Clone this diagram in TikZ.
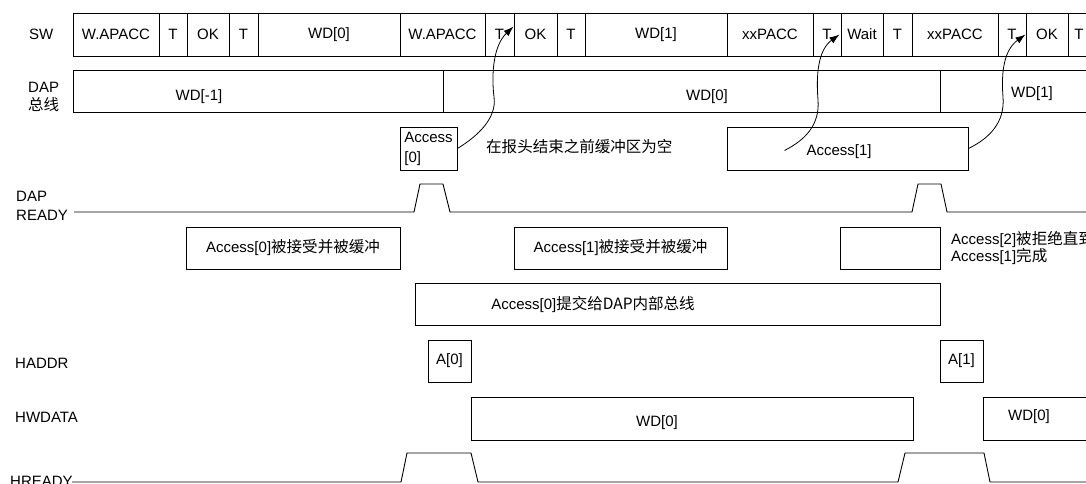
\documentclass[tikz,border=0pt]{standalone}
\usepackage{fontspec}
\setmainfont{Liberation Sans}
\newfontfamily\cjk{Noto Sans CJK SC}[Scale=1.035]
\usetikzlibrary{arrows.meta, calc, positioning}

\begin{document}
\begin{tikzpicture}[x=1pt, y=-1pt,
    font={\fontsize{15}{17}\selectfont},
    cell/.style={rectangle, draw, line width=0.9pt, inner sep=0pt, minimum height=43pt},
    lbl/.style={anchor=west, align=left, inner sep=0pt, font={\fontsize{15}{18.5}\selectfont}},
    wave/.style={line width=0.9pt},
    arrow/.style={-{Latex[length=10pt, width=7pt]}, line width=0.8pt}]

    \useasboundingbox (0,0) rectangle (1086,484);
    \clip (0,0) rectangle (1086,484);

    % signal names
    \node[lbl] (swl) at (29,34) {SW};
    \node[lbl] (busl) at (28,97) {DAP\\{\cjk 总线}};
    \node[lbl] (rdyl) at (16,206) {DAP\\READY};
    \node[lbl] (haddrl) at (15,363) {HADDR};
    \node[lbl] (hwdatal) at (15,417) {HWDATA};
    \node[lbl] (hrdyl) at (10,481) {HREADY};

    % SW row
    \foreach \a/\b/\t [count=\i] in {73/159/W.APACC, 159/187/T, 187/229/OK, 229/258/T,
        258/400/WD[0], 400/485/W.APACC, 485/514/T, 514/557/OK, 557/585/T, 585/727/WD[1],
        727/813/xxPACC, 813/841/T, 841/883/Wait, 883/912/T, 912/998/xxPACC, 998/1026/T,
        1026/1068/OK, 1068/1090/T}
        \node[cell, minimum width=\b-\a] (sw\i) at ({(\a+\b)/2},34.5) {\t};

    % DAP bus row
    \node[cell, minimum width=370, minimum height=42] (bus1) at (258,91) {};
    \node (bus1t) at (199,97) {WD[-1]};
    \node[cell, minimum width=497, minimum height=42] (bus2) at (691.5,91) {};
    \node (bus2t) at (707,97) {WD[0]};
    \node[cell, minimum width=160, minimum height=42] (bus3) at (1020,91) {};
    \node (bus3t) at (1032,94) {WD[1]};

    % accesses
    \node[cell, minimum width=57, align=left, font={\fontsize{15}{20}\selectfont}] (acc0) at (428.5,148.5) {Access\\{[0]}};
    \node[anchor=west, inner sep=0pt] (note) at (486,147) {\cjk 在报头结束之前缓冲区为空};
    \node[cell, minimum width=241] (acc1) at (847.5,148.5) {};
    \node (acc1t) at (839,152) {Access[1]};

    % DAP READY
    \draw[wave] (74,212) -- (414,212) -- (420,184) -- (443,184) -- (450,212) -- (912,212)
        -- (918,184) -- (941,184) -- (947,212) -- (1090,212);

    \node[cell, minimum width=214, minimum height=42] (mid0) at (293,248) {Access[0]{\cjk 被接受并被缓冲}};
    \node[cell, minimum width=213, minimum height=42] (mid1) at (620.5,248) {Access[1]{\cjk 被接受并被缓冲}};
    \node[cell, minimum width=100, minimum height=42] (mid2) at (890,248) {};
    \node[lbl, font={\fontsize{15}{16.5}\selectfont}] (rej) at (951,248) {Access[2]{\cjk 被拒绝直到}\\Access[1]{\cjk 完成}};

    \node[cell, minimum width=525, minimum height=42] (commit) at (677.5,304) {};
    \node (committ) at (593,304) {Access[0]{\cjk 提交给DAP内部总线}};

    % AHB side
    \node[cell, minimum width=43, minimum height=42] (a0) at (449.5,361) {A[0]};
    \node[cell, minimum width=43, minimum height=42] (a1) at (961.5,361) {A[1]};

    \node[cell, minimum width=442] (hw0) at (692,418.5) {};
    \node (hw0t) at (657,423) {WD[0]};
    \node[cell, minimum width=117] (hw1) at (1041.5,418.5) {};
    \node (hw1t) at (1029,417) {WD[0]};

    \draw[wave] (72,482) -- (401,482) -- (407,453) -- (471,453) -- (478,482) -- (898,482)
        -- (905,453) -- (984,453) -- (990,482) -- (1090,482);

    % arrows
    \draw[arrow] (acc0.east) .. controls (478,136) and (497,118) .. (494,97)
        .. controls (491,72) and (494,45) .. ([xshift=-1pt,yshift=-14pt]sw7.north east);
    \draw[arrow] ($(acc1.center)+(-63,2)$) .. controls (805,140) and (820,125) .. (818,100)
        .. controls (816,75) and (818,50) .. ([xshift=-2pt,yshift=-22pt]sw12.north east);
    \draw[arrow] (acc1.east) .. controls (990,138) and (1005,122) .. (1003,97)
        .. controls (1001,72) and (1004,50) .. ([xshift=-1pt,yshift=-22pt]sw16.north east);
\end{tikzpicture}
\end{document}
